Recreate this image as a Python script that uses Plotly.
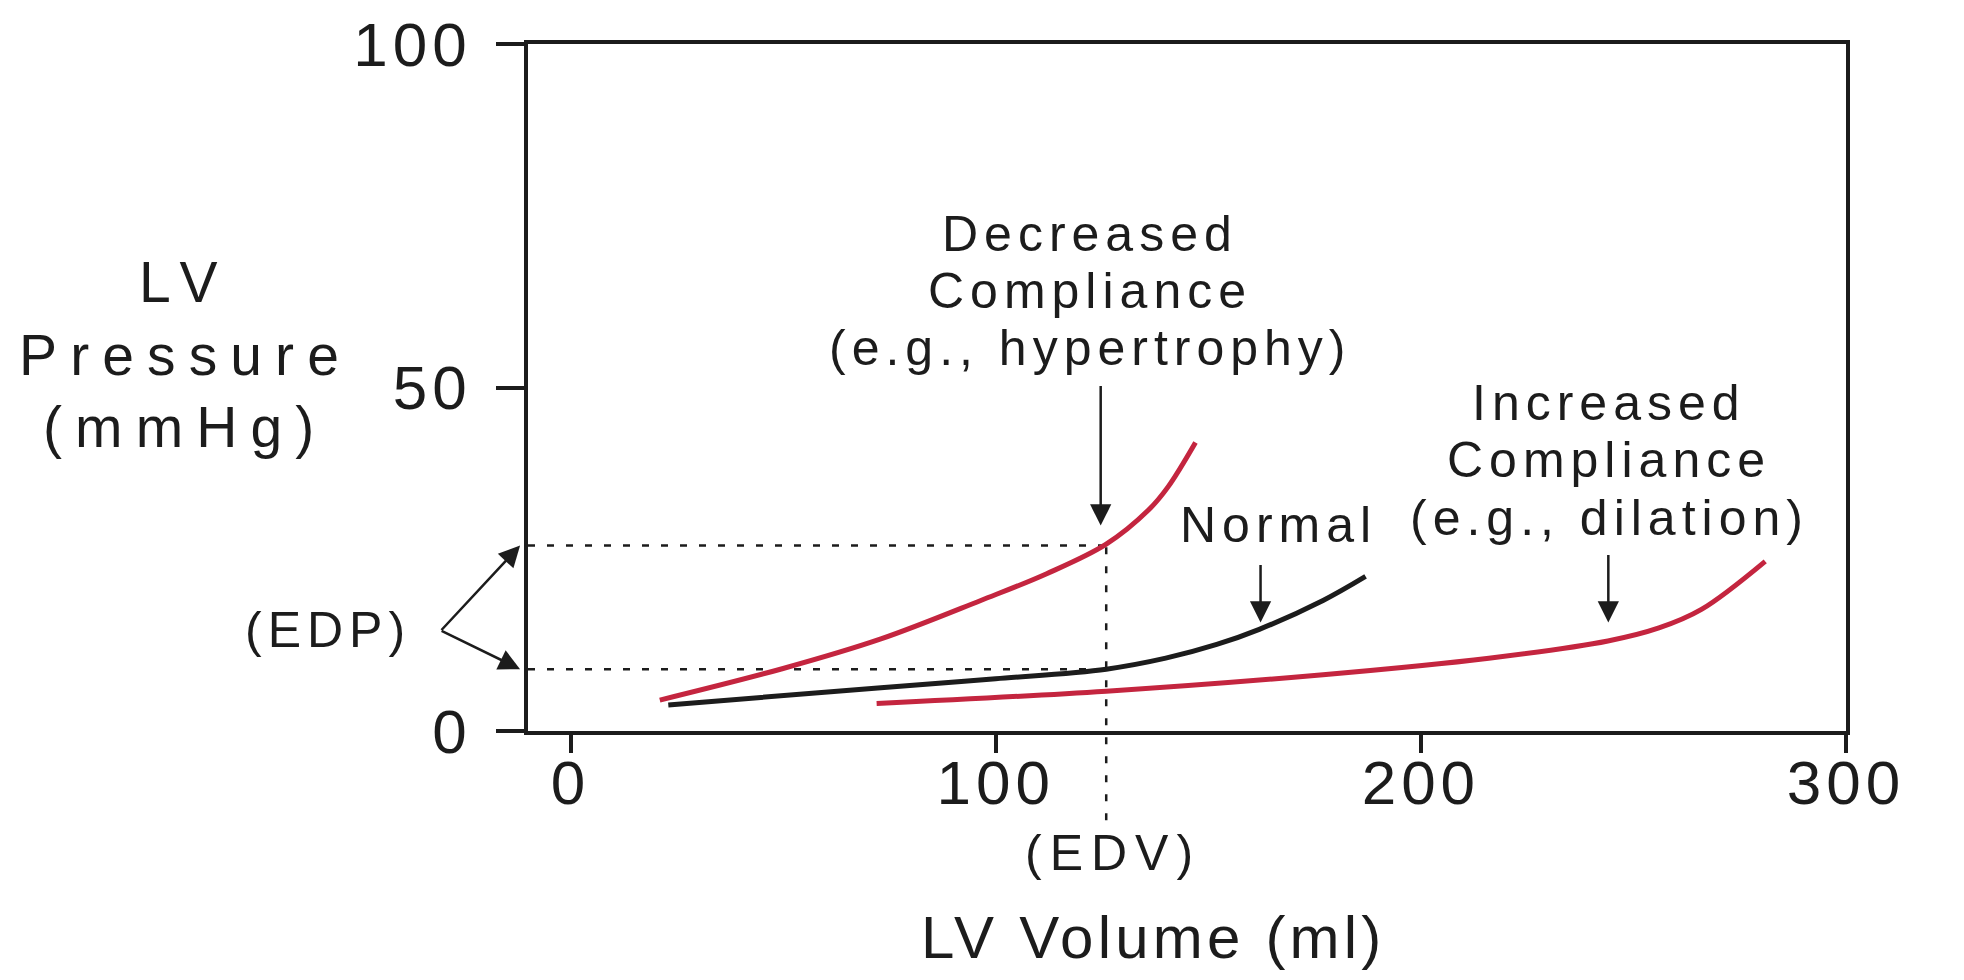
import plotly.graph_objects as go

# LV end-diastolic pressure-volume curves
# volume in ml, pressure in mmHg
decreased_vol = [21, 50, 73, 96.5, 112, 126, 136, 140.5, 147]
decreased_p = [4.5, 9.1, 13.4, 19.0, 22.9, 27.2, 32.2, 35.5, 42.0]

normal_vol = [23, 73, 100, 126, 140, 152, 162, 177, 187]
normal_p = [3.8, 6.3, 7.6, 9.0, 10.6, 12.6, 14.8, 19.0, 22.5]

increased_vol = [72, 126, 177, 216, 244, 256, 266, 281]
increased_p = [4.0, 5.8, 8.2, 10.6, 13.1, 15.0, 17.7, 24.7]

edv = 126
edp = [27, 9]

x_ticks = [0, 100, 200, 300]
y_ticks = [0, 50, 100]

RED = '#c4253f'
INK = '#1c1c1c'
FONT = 'Liberation Sans, Arial, sans-serif'


def spaced(text, em=0.12):
    # the original lettering is widely tracked
    return f'<span style="letter-spacing:{em}em">{text}</span>'


fig = go.Figure()

fig.add_trace(go.Scatter(x=decreased_vol, y=decreased_p, mode='lines',
                         line=dict(color=RED, width=5, shape='spline')))
fig.add_trace(go.Scatter(x=increased_vol, y=increased_p, mode='lines',
                         line=dict(color=RED, width=5, shape='spline')))
fig.add_trace(go.Scatter(x=normal_vol, y=normal_p, mode='lines',
                         line=dict(color=INK, width=5, shape='spline')))

dash = dict(color=INK, width=2.5, dash='7px,12px')
for p in edp:
    fig.add_shape(type='line', xref='x', yref='y', x0=-10, x1=edv, y0=p, y1=p,
                  line=dash, layer='below')
fig.add_shape(type='line', xref='x', yref='paper', x0=edv, x1=edv,
              y0=-0.13, y1=edp[0] / y_ticks[-1], line=dash, layer='below')


def label(text, x, y, xref='x', yref='y', size=50, em=0.12):
    fig.add_annotation(x=x, y=y, xref=xref, yref=yref, text=spaced(text, em),
                       showarrow=False, xanchor='center', yanchor='middle',
                       font=dict(family=FONT, size=size, color=INK))


# curve labels, one annotation per line to keep the tight leading
for text, y in zip(['Decreased', 'Compliance', '(e.g., hypertrophy)'], [72.3, 64.0, 55.7]):
    label(text, 122.3, y)
label('Normal', 166.5, 30.0)
for text, y in zip(['Increased', 'Compliance', '(e.g., dilation)'], [47.8, 39.5, 31.0]):
    label(text, 244.3, y)
label('(EDV)', 127.5, -0.177, yref='paper', em=0.16)
label('(EDP)', -0.152, 14.7, xref='paper')

# axis titles
label('LV Volume (ml)', 0.474, -0.301, xref='paper', yref='paper', size=60, em=0.07)
for text, y in zip(['LV', 'Pressure', '(mmHg)'], [65.3, 54.7, 44.2]):
    label(text, -0.260, y, xref='paper', size=57, em=0.23)

# arrows
arrow = dict(text='', showarrow=True, arrowhead=2, arrowsize=1.7, arrowwidth=2.5,
             arrowcolor=INK, standoff=0)
fig.add_annotation(x=124.7, y=29.9, ax=0, ay=-141, **arrow)
fig.add_annotation(x=162.3, y=15.8, ax=0, ay=-59, **arrow)
fig.add_annotation(x=244.1, y=15.8, ax=0, ay=-69, **arrow)
fig.add_annotation(x=-0.006, xref='paper', y=edp[0], yref='y', ax=-80, ay=86, **arrow)
fig.add_annotation(x=-0.006, xref='paper', y=edp[1], yref='y', ax=-80, ay=-39, **arrow)

axis = dict(showline=True, linewidth=4, linecolor=INK, mirror=True,
            ticks='outside', tickwidth=4, tickcolor=INK, showgrid=False,
            zeroline=False, ticklabeloverflow='allow', automargin=False,
            tickfont=dict(family=FONT, size=62, color=INK))

fig.update_layout(
    width=1964, height=980,
    margin=dict(l=520, r=126, t=36, b=257),
    paper_bgcolor='white', plot_bgcolor='white',
    showlegend=False,
    xaxis=dict(range=[-10, 300], tickvals=x_ticks, ticklen=18,
               ticktext=[spaced(str(v), 0.08) for v in x_ticks],
               ticklabelstandoff=-23, **axis),
    yaxis=dict(range=[0, 100], tickvals=y_ticks, ticklen=28,
               ticktext=[spaced(str(v), 0.08) for v in y_ticks],
               ticklabelstandoff=12, **axis),
)

fig.write_html("out.html")
